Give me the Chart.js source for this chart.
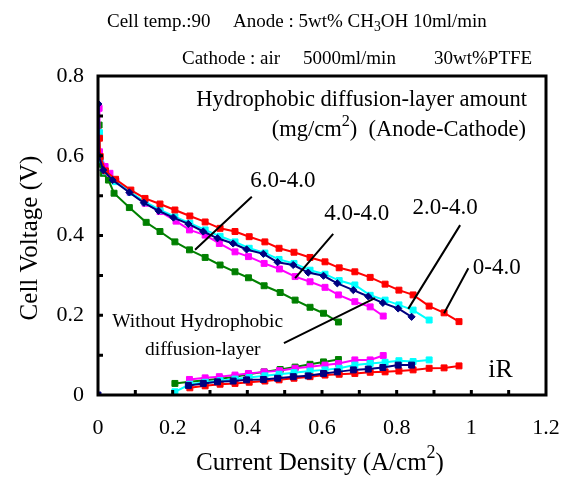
<!DOCTYPE html>
<html>
<head>
<meta charset="utf-8">
<script src="https://cdn.jsdelivr.net/npm/chart.js@4.4.0/dist/chart.umd.min.js"></script>
<style>
    html, body { margin: 0; padding: 0; background: #fff; }
</style>
</head>
<body>
<canvas id="chart" width="564" height="478"></canvas>
<script>
// polarization curves, current density (A/cm2) and cell voltage (V)
const redX = [0.004, 0.006, 0.02, 0.047, 0.088, 0.126, 0.166, 0.206, 0.246, 0.287, 0.327, 0.367, 0.405, 0.447, 0.485, 0.525, 0.568, 0.608, 0.646, 0.688, 0.729, 0.769, 0.806, 0.844, 0.887, 0.927, 0.967];
const redV = [0.644, 0.598, 0.562, 0.541, 0.514, 0.493, 0.479, 0.464, 0.449, 0.434, 0.418, 0.410, 0.397, 0.384, 0.368, 0.358, 0.345, 0.334, 0.319, 0.309, 0.295, 0.278, 0.263, 0.251, 0.223, 0.206, 0.184];

const cyanX = [0.004, 0.006, 0.02, 0.047, 0.088, 0.126, 0.166, 0.206, 0.246, 0.287, 0.327, 0.367, 0.405, 0.447, 0.485, 0.525, 0.568, 0.608, 0.646, 0.688, 0.729, 0.769, 0.806, 0.844, 0.887];
const cyanV = [0.658, 0.590, 0.560, 0.535, 0.508, 0.484, 0.464, 0.447, 0.431, 0.414, 0.398, 0.384, 0.368, 0.356, 0.340, 0.330, 0.313, 0.303, 0.287, 0.276, 0.250, 0.238, 0.226, 0.213, 0.188];

const navyX = [0.001, 0.002, 0.014, 0.039, 0.084, 0.123, 0.162, 0.202, 0.242, 0.282, 0.320, 0.362, 0.398, 0.443, 0.481, 0.523, 0.563, 0.604, 0.641, 0.684, 0.724, 0.763, 0.804, 0.840];
const navyV = [0.730, 0.600, 0.564, 0.539, 0.508, 0.482, 0.462, 0.445, 0.429, 0.410, 0.393, 0.380, 0.365, 0.354, 0.333, 0.326, 0.307, 0.299, 0.280, 0.263, 0.247, 0.231, 0.217, 0.196];

const magentaX = [0.003, 0.004, 0.019, 0.032, 0.048, 0.086, 0.126, 0.166, 0.209, 0.245, 0.287, 0.325, 0.367, 0.403, 0.445, 0.486, 0.528, 0.568, 0.608, 0.644, 0.688, 0.729, 0.764];
const magentaV = [0.719, 0.610, 0.573, 0.556, 0.537, 0.508, 0.481, 0.460, 0.436, 0.414, 0.401, 0.380, 0.359, 0.347, 0.330, 0.316, 0.297, 0.284, 0.270, 0.251, 0.234, 0.221, 0.198];

const greenX = [0.003, 0.005, 0.014, 0.028, 0.043, 0.084, 0.129, 0.166, 0.206, 0.245, 0.287, 0.327, 0.367, 0.403, 0.445, 0.488, 0.528, 0.568, 0.604, 0.644];
const greenV = [0.677, 0.579, 0.556, 0.539, 0.506, 0.470, 0.433, 0.410, 0.384, 0.364, 0.345, 0.326, 0.309, 0.294, 0.274, 0.257, 0.238, 0.220, 0.205, 0.183];

// iR losses (V)
const redIrX = [0.246, 0.287, 0.327, 0.367, 0.405, 0.447, 0.485, 0.525, 0.568, 0.608, 0.646, 0.688, 0.729, 0.769, 0.806, 0.844, 0.887, 0.927, 0.967];
const redIr = [0.018, 0.023, 0.027, 0.029, 0.032, 0.035, 0.038, 0.042, 0.046, 0.050, 0.052, 0.054, 0.057, 0.058, 0.060, 0.063, 0.067, 0.068, 0.073];

const cyanIrX = [0.206, 0.246, 0.287, 0.327, 0.367, 0.405, 0.447, 0.485, 0.525, 0.568, 0.608, 0.646, 0.688, 0.729, 0.769, 0.806, 0.844, 0.887];
const cyanIr = [0.008, 0.027, 0.032, 0.036, 0.040, 0.044, 0.048, 0.052, 0.056, 0.060, 0.063, 0.067, 0.075, 0.079, 0.082, 0.086, 0.084, 0.088];

const navyIrX = [0, null, 0.242, 0.282, 0.320, 0.362, 0.398, 0.443, 0.481, 0.523, 0.563, 0.604, 0.641, 0.684, 0.724, 0.763, 0.804, 0.840];
const navyIr = [0, null, 0.024, 0.029, 0.033, 0.035, 0.038, 0.039, 0.042, 0.046, 0.048, 0.054, 0.058, 0.063, 0.065, 0.069, 0.075, 0.075];

const magentaIrX = [0.245, 0.287, 0.325, 0.367, 0.403, 0.445, 0.486, 0.528, 0.568, 0.608, 0.644, 0.688, 0.729, 0.764];
const magentaIr = [0.039, 0.043, 0.046, 0.050, 0.054, 0.058, 0.061, 0.067, 0.071, 0.075, 0.079, 0.088, 0.088, 0.099];

const greenIrX = [0.206, 0.245, 0.287, 0.327, 0.367, 0.403, 0.445, 0.488, 0.528, 0.568, 0.604, 0.644];
const greenIr = [0.029, 0.033, 0.037, 0.041, 0.046, 0.052, 0.058, 0.064, 0.070, 0.077, 0.083, 0.089];

const xTicks = [0, 0.2, 0.4, 0.6, 0.8, 1, 1.2];
const yTicks = [0, 0.2, 0.4, 0.6, 0.8];

const SERIF = '"Liberation Serif", "Times New Roman", serif';

const pts = (xs, ys) => xs.map((x, i) => ({ x: x, y: x === null ? null : ys[i] }));

const series = (data, color, shape, r) => ({
    data: data,
    borderColor: color,
    backgroundColor: color,
    borderWidth: 2,
    pointStyle: shape,
    pointRadius: r,
    pointBorderWidth: 1,
    spanGaps: false,
    tension: 0,
});

// draws mixed text like CH3OH, with sub / superscripts
function richText(ctx, parts, x, y, size, align) {
    let total = 0;
    parts.forEach(p => {
        ctx.font = (p.sub || p.sup ? size * 0.72 : size) + 'px ' + SERIF;
        p.w = ctx.measureText(p.t).width;
        total += p.w;
    });
    let cx = align === 'center' ? x - total / 2 : (align === 'right' ? x - total : x);
    parts.forEach(p => {
        ctx.font = (p.sub || p.sup ? size * 0.72 : size) + 'px ' + SERIF;
        let dy = p.sub ? size * 0.3 : (p.sup ? -size * 0.38 : 0);
        ctx.fillText(p.t, cx, y + dy);
        cx += p.w;
    });
}

const decor = {
    id: 'decor',
    afterDraw(chart) {
        const { ctx, chartArea: a, scales } = chart;
        const xs = scales.x, ys = scales.y;
        const px = v => xs.getPixelForValue(v);
        const py = v => ys.getPixelForValue(v);
        ctx.save();

        // frame and inner ticks
        ctx.strokeStyle = '#000';
        ctx.lineWidth = 3;
        ctx.strokeRect(a.left, a.top, a.right - a.left, a.bottom - a.top);
        ctx.beginPath();
        for (let i = 1; i < 12; i++) {
            ctx.moveTo(px(i / 10), a.bottom);
            ctx.lineTo(px(i / 10), a.bottom - 5);
        }
        for (let i = 1; i < 8; i++) {
            ctx.moveTo(a.left, py(i / 10));
            ctx.lineTo(a.left + 5, py(i / 10));
        }
        ctx.stroke();

        ctx.fillStyle = '#000';
        ctx.textBaseline = 'middle';

        // header
        richText(ctx, [{ t: 'Cell temp.:90' }], 107, 22, 19, 'left');
        richText(ctx, [{ t: 'Anode : 5wt% CH' }, { t: '3', sub: true }, { t: 'OH 10ml/min' }], 233, 22, 19, 'left');
        richText(ctx, [{ t: 'Cathode : air' }], 182, 59, 19, 'left');
        richText(ctx, [{ t: '5000ml/min' }], 303, 59, 19, 'left');
        richText(ctx, [{ t: '30wt%PTFE' }], 434, 59, 19, 'left');

        // axis titles
        richText(ctx, [{ t: 'Current Density (A/cm' }, { t: '2', sup: true }, { t: ')' }], 320, 463, 25, 'center');
        ctx.save();
        ctx.translate(30, 238);
        ctx.rotate(-Math.PI / 2);
        richText(ctx, [{ t: 'Cell Voltage (V)' }], 0, 0, 25, 'center');
        ctx.restore();

        // annotations
        richText(ctx, [{ t: 'Hydrophobic diffusion-layer amount' }], 527, 100, 22.5, 'right');
        richText(ctx, [{ t: '(mg/cm' }, { t: '2', sup: true }, { t: ')  (Anode-Cathode)' }], 526, 130, 22.5, 'right');
        richText(ctx, [{ t: '6.0-4.0' }], px(0.495), py(0.538), 23, 'center');
        richText(ctx, [{ t: '4.0-4.0' }], px(0.693), py(0.454), 23, 'center');
        richText(ctx, [{ t: '2.0-4.0' }], px(0.930), py(0.468), 23, 'center');
        richText(ctx, [{ t: '0-4.0' }], px(1.068), py(0.318), 23, 'center');
        richText(ctx, [{ t: 'iR' }], px(1.078), py(0.063), 26, 'center');
        richText(ctx, [{ t: 'Without Hydrophobic' }], px(0.038), py(0.183), 19.5, 'left');
        richText(ctx, [{ t: 'diffusion-layer' }], px(0.126), py(0.113), 19.5, 'left');

        // leader lines
        ctx.lineWidth = 2;
        ctx.beginPath();
        const lead = (x1, y1, x2, y2) => { ctx.moveTo(px(x1), py(y1)); ctx.lineTo(px(x2), py(y2)); };
        lead(0.412, 0.497, 0.260, 0.364);
        lead(0.630, 0.404, 0.528, 0.293);
        lead(0.970, 0.426, 0.831, 0.216);
        lead(0.992, 0.318, 0.927, 0.205);
        lead(0.498, 0.130, 0.742, 0.243);
        ctx.stroke();

        ctx.restore();
    }
};

new Chart(document.getElementById('chart'), {
    type: 'line',
    data: {
        datasets: [
            series(pts(navyX, navyV), '#000080', 'rectRot', 3.6),
            series(pts(navyIrX, navyIr), '#000080', 'rect', 4.2),
            series(pts(redX, redV), '#ff0000', 'rect', 4.2),
            series(pts(redIrX, redIr), '#ff0000', 'rect', 4.2),
            series(pts(cyanX, cyanV), '#00ffff', 'rect', 4.2),
            series(pts(cyanIrX, cyanIr), '#00ffff', 'rect', 4.2),
            series(pts(magentaX, magentaV), '#ff00ff', 'rect', 4.2),
            series(pts(magentaIrX, magentaIr), '#ff00ff', 'rect', 4.2),
            series(pts(greenX, greenV), '#008000', 'rect', 4.2),
            series(pts(greenIrX, greenIr), '#008000', 'rect', 4.2),
        ]
    },
    options: {
        responsive: false,
        animation: false,
        layout: { padding: { top: 76, right: 18, left: 0, bottom: 0 } },
        scales: {
            x: {
                type: 'linear',
                min: 0,
                max: 1.2,
                afterFit: s => { s.height = 83; s.paddingLeft = 0; s.paddingRight = 0; },
                afterBuildTicks: s => { s.ticks = xTicks.map(v => ({ value: v })); },
                grid: { display: false, drawTicks: false },
                border: { display: false },
                ticks: {
                    padding: 20,
                    color: '#000',
                    font: { family: SERIF, size: 22 },
                    maxRotation: 0,
                    callback: v => String(parseFloat(v.toFixed(1))),
                },
            },
            y: {
                type: 'linear',
                min: 0,
                max: 0.8,
                afterFit: s => { s.width = 98; s.paddingTop = 0; s.paddingBottom = 0; },
                afterBuildTicks: s => { s.ticks = yTicks.map(v => ({ value: v })); },
                grid: { display: false, drawTicks: false },
                border: { display: false },
                ticks: {
                    padding: 14,
                    color: '#000',
                    font: { family: SERIF, size: 22 },
                    callback: v => String(parseFloat(v.toFixed(1))),
                },
            },
        },
        plugins: {
            legend: { display: false },
            tooltip: { enabled: false },
        },
    },
    plugins: [decor],
});
</script>
</body>
</html>
